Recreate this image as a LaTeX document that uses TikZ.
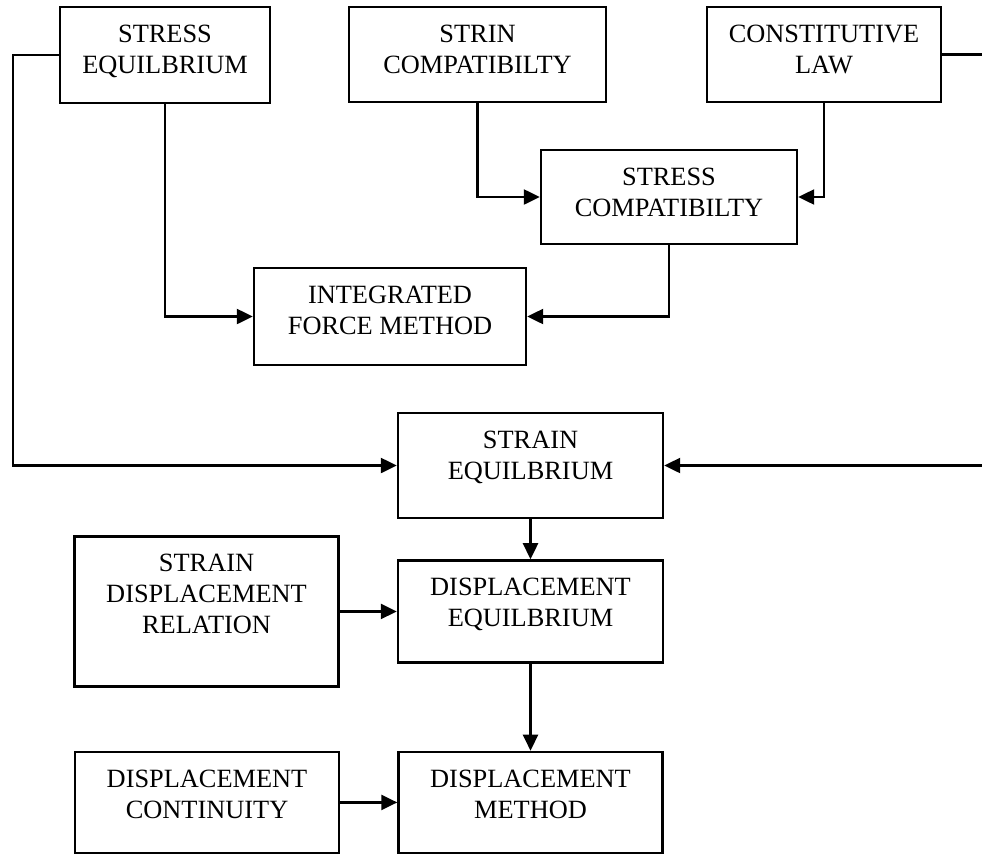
\documentclass[tikz,border=0pt]{standalone}
\usepackage{fontspec}
\setmainfont{Liberation Serif}
\usetikzlibrary{arrows.meta,positioning}
\newcommand{\boxtxt}[3]{\parbox[c][#2][t]{#1}{\centering\vspace*{3.6mm}#3}}

\begin{document}
\begin{tikzpicture}[
  font=\fontsize{15}{17.5}\selectfont,
  box/.style={draw,line width=1.4pt,inner sep=0pt},
  arr/.style={-{Triangle[length=3.2mm,width=3mm]},line width=1.4pt}
]
\useasboundingbox (0,0) rectangle (19.64,-17.06);
\node[box] (stresseq) at (3.30,-1.10) {\boxtxt{4.2cm}{1.92cm}{STRESS\\EQUILBRIUM}};
\node[box] (straincomp) at (9.55,-1.09) {\boxtxt{5.14cm}{1.9cm}{STRIN\\COMPATIBILTY}};
\node[box] (constlaw) at (16.48,-1.09) {\boxtxt{4.68cm}{1.9cm}{CONSTITUTIVE\\LAW}};
\node[box] (stresscomp) at (13.38,-3.94) {\boxtxt{5.12cm}{1.88cm}{STRESS\\COMPATIBILTY}};
\node[box] (ifm) at (7.80,-6.33) {\boxtxt{5.44cm}{1.94cm}{INTEGRATED\\FORCE METHOD}};
\node[box] (straineq) at (10.61,-9.31) {\boxtxt{5.3cm}{2.1cm}{STRAIN\\EQUILBRIUM}};
\node[box,below=0.8cm of straineq] (dispeq) {\boxtxt{5.3cm}{2.04cm}{DISPLACEMENT\\EQUILBRIUM}};
\node[box,left=1.14cm of dispeq] (sdr) {\boxtxt{5.28cm}{3cm}{STRAIN\\DISPLACEMENT\\RELATION}};
\node[box,below=1.74cm of dispeq] (dispmeth) {\boxtxt{5.28cm}{2.02cm}{DISPLACEMENT\\METHOD}};
\node[box,left=1.14cm of dispmeth] (dispcont) {\boxtxt{5.28cm}{2.02cm}{DISPLACEMENT\\CONTINUITY}};
% outer return lines
\coordinate (leftbend) at (0.26,-9.31);
\coordinate (rightbend) at (19.9,-9.31);
\draw[arr] (stresseq.west) -| (leftbend) -- (straineq.west);
\draw[arr] (constlaw.east) -| (rightbend) -- (straineq.east);
\draw[arr] (stresseq.south) |- (ifm.west);
\draw[arr] (straincomp.south) |- (stresscomp.west);
\draw[arr] (constlaw.south) |- (stresscomp.east);
\draw[arr] (stresscomp.south) |- (ifm.east);
\draw[arr] (straineq) -- (dispeq);
\draw[arr] (sdr.east) -- (dispeq.west);
\draw[arr] (dispeq) -- (dispmeth);
\draw[arr] (dispcont) -- (dispmeth);
\end{tikzpicture}
\end{document}
